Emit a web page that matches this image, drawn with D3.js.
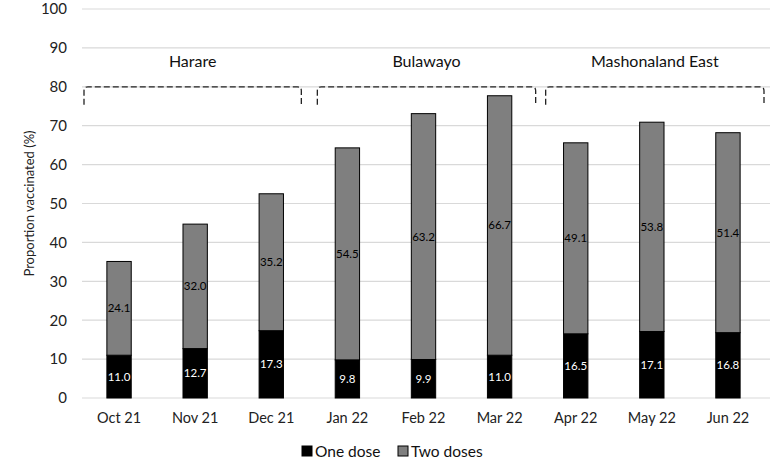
<!DOCTYPE html>
<html>
<head>
<meta charset="utf-8">
<script src="https://d3js.org/d3.v7.min.js"></script>
<title>Proportion vaccinated</title>
<style>
body { margin: 0; background: #fff; }
svg { display: block; font-family: Lato, "Open Sans", sans-serif; }
</style>
</head>
<body>
<svg width="779" height="472"></svg>
<script>

// chart data
let months = ["Oct 21", "Nov 21", "Dec 21", "Jan 22", "Feb 22", "Mar 22", "Apr 22", "May 22", "Jun 22"];
let oneDose = [11.0, 12.7, 17.3, 9.8, 9.9, 11.0, 16.5, 17.1, 16.8];
let twoDoses = [24.1, 32.0, 35.2, 54.5, 63.2, 66.7, 49.1, 53.8, 51.4];
let yTicks = [0, 10, 20, 30, 40, 50, 60, 70, 80, 90, 100];
let regions = ["Harare", "Bulawayo", "Mashonaland East"];
let regionFirst = ["Oct 21", "Jan 22", "Apr 22"];
let regionLast = ["Dec 21", "Mar 22", "Jun 22"];
let seriesNames = ["One dose", "Two doses"];
let seriesColors = ["#000000", "#7f7f7f"];

let svg = d3.select("svg");

let x = d3.scaleBand().domain(months).range([81, 766]).paddingInner(0.68).paddingOuter(0.34);
let y = d3.scaleLinear().domain([0, 100]).range([398, 9]);

// gridlines
svg.append("g").selectAll("line")
  .data(yTicks)
  .enter().append("line")
  .attr("x1", 82).attr("x2", 770)
  .attr("y1", function(d){ return y(d); })
  .attr("y2", function(d){ return y(d); })
  .attr("stroke", "#d9d9d9")
  .attr("stroke-width", 1.2);

// y axis labels
let yAxis = d3.axisLeft(y).tickValues(yTicks).tickSize(0).tickPadding(0);
let yg = svg.append("g").attr("transform", "translate(67,0)").call(yAxis);
yg.select(".domain").remove();
yg.selectAll("text").attr("font-size", 15).attr("fill", "#222").attr("font-family", "Lato, sans-serif");

// x axis labels
let xAxis = d3.axisBottom(x).tickSize(0).tickPadding(0);
let xg = svg.append("g").attr("transform", "translate(0,413)").call(xAxis);
xg.select(".domain").remove();
xg.selectAll("text").attr("font-size", 14.5).attr("fill", "#222").attr("font-family", "Lato, sans-serif");

// y title
svg.append("text")
  .attr("transform", "translate(34," + y(50) + ") rotate(-90)")
  .attr("text-anchor", "middle")
  .attr("font-size", 13)
  .attr("fill", "#222")
  .text("Proportion vaccinated (%)");

// stacked bars
let stackData = months.map(function(m, i){ return {month: m, one: oneDose[i], two: twoDoses[i]}; });
let stack = d3.stack().keys(["one", "two"])(stackData);

let layers = svg.append("g").selectAll("g")
  .data(stack)
  .enter().append("g")
  .attr("fill", function(d, i){ return seriesColors[i]; });

layers.selectAll("rect")
  .data(function(d){ return d; })
  .enter().append("rect")
  .attr("x", function(d){ return x(d.data.month); })
  .attr("width", x.bandwidth())
  .attr("y", function(d){ return y(d[1]); })
  .attr("height", function(d){ return y(d[0]) - y(d[1]); })
  .attr("stroke", "#000")
  .attr("stroke-width", 1);

layers.selectAll("text")
  .data(function(d, i){ return d.map(function(p){ return {p: p, s: i}; }); })
  .enter().append("text")
  .attr("x", function(d){ return x(d.p.data.month) + x.bandwidth() / 2; })
  .attr("y", function(d){ return (y(d.p[0]) + y(d.p[1])) / 2 + 4; })
  .attr("text-anchor", "middle")
  .attr("font-size", 11.5)
  .attr("fill", function(d){ return d.s == 0 ? "#fff" : "#000"; })
  .text(function(d){ return (d.p[1] - d.p[0]).toFixed(1); });

// region brackets
let brTop = y(80), brBottom = y(75.4);
regions.forEach(function(r, i){
  let half = x.step() * x.paddingInner() / 2;
  let x0 = x(regionFirst[i]) - half + (i == 0 ? 3 : 8);
  let x1 = x(regionLast[i]) + x.bandwidth() + half - (i == 0 ? 8 : 2);
  let path = d3.path();
  path.moveTo(x0, brBottom);
  path.lineTo(x0, brTop + 4);
  path.quadraticCurveTo(x0, brTop, x0 + 4, brTop);
  path.lineTo(x1 - 4, brTop);
  path.quadraticCurveTo(x1, brTop, x1, brTop + 4);
  path.lineTo(x1, brBottom);
  svg.append("path")
    .attr("d", path.toString())
    .attr("fill", "none")
    .attr("stroke", "#222")
    .attr("stroke-width", 1.3)
    .attr("stroke-dasharray", "6,3");
  svg.append("text")
    .attr("x", (x0 + x1) / 2)
    .attr("y", y(86.6) + 5.5)
    .attr("text-anchor", "middle")
    .attr("font-size", 16)
    .attr("fill", "#111")
    .text(r);
});

// legend
let legend = svg.append("g").selectAll("g")
  .data(seriesNames)
  .enter().append("g")
  .attr("transform", function(d, i){ return "translate(" + (302 + i * 96) + ",446)"; });

legend.append("rect")
  .attr("width", 10).attr("height", 10)
  .attr("fill", function(d, i){ return seriesColors[i]; })
  .attr("stroke", "#000").attr("stroke-width", 1);

legend.append("text")
  .attr("x", 13).attr("y", 10.5)
  .attr("font-size", 15.5)
  .attr("fill", "#111")
  .text(function(d){ return d; });

</script>
</body>
</html>
